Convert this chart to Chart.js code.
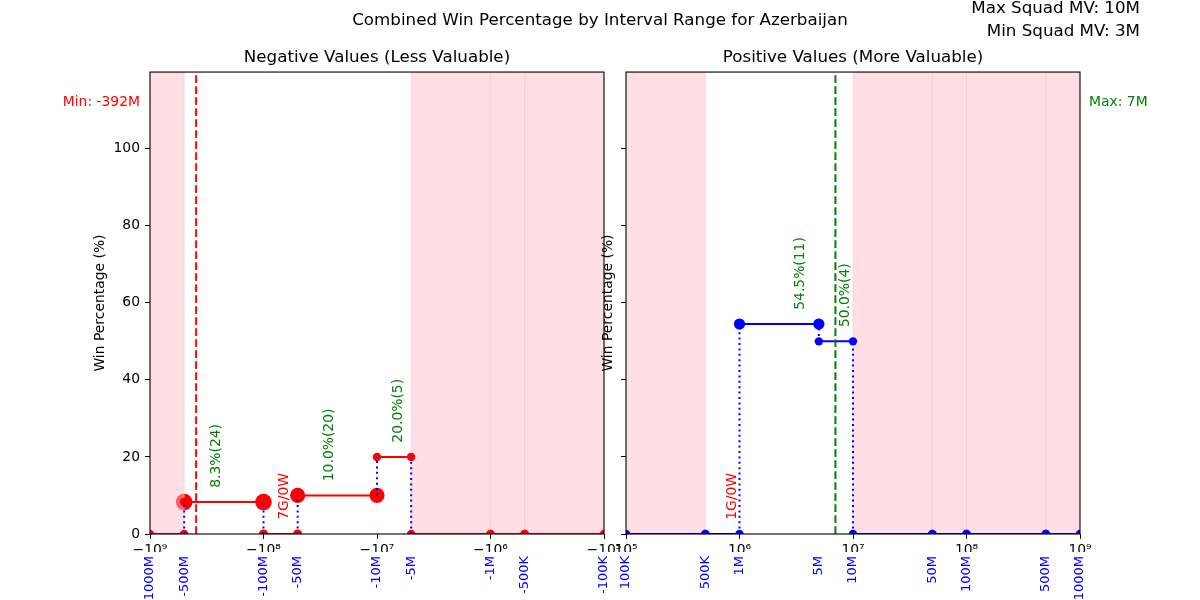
<!DOCTYPE html>
<html>
<head>
<meta charset="utf-8">
<script src="https://cdn.jsdelivr.net/npm/chart.js@4.4.1/dist/chart.umd.min.js"></script>
<style>
html,body{margin:0;padding:0;background:#fff;}
#wrap{position:relative;width:1200px;height:600px;overflow:hidden;font-family:'DejaVu Sans',sans-serif;background:#fff;}
canvas{position:absolute;left:0;top:0;}
.t{position:absolute;white-space:nowrap;font-size:16.7px;color:#000;}
</style>
</head>
<body>
<div id="wrap">
<canvas id="neg" width="1200" height="600" style="width:1200px;height:600px"></canvas>
<canvas id="pos" width="1200" height="600" style="width:1200px;height:600px"></canvas>
<div class="t" id="sup" style="left:0;width:1200px;text-align:center;top:9px;line-height:20px;"></div>
<div class="t" id="squad" style="right:60px;top:-4px;text-align:right;line-height:23.3px;"></div>
</div>
<script>
// ---------------- data ----------------
const suptitleText = 'Combined Win Percentage by Interval Range for Azerbaijan';
const squadLines = ['Max Squad MV: 10M', 'Min Squad MV: 3M'];

const negTitle = 'Negative Values (Less Valuable)';
const negBounds = [-1e9, -5e8, -1e8, -5e7, -1e7, -5e6, -1e6, -5e5, -1e5];
const negWinPct = [0, 8.3, 0, 10.0, 20.0, 0, 0, 0];
const negGames  = [0, 24, 7, 20, 5, 0, 0, 0];
const negMinValue = -392e6;

const posTitle = 'Positive Values (More Valuable)';
const posBounds = [1e5, 5e5, 1e6, 5e6, 1e7, 5e7, 1e8, 5e8, 1e9];
const posWinPct = [0, 0, 54.5, 50.0, 0, 0, 0, 0];
const posGames  = [0, 1, 11, 4, 0, 0, 0, 0];
const posMaxValue = 7e6;

const decadeTicks = [1e5, 1e6, 1e7, 1e8, 1e9];
const yTicks = [0, 20, 40, 60, 80, 100];
const yMax = 119.9;
const yTitle = 'Win Percentage (%)';

// ---------------- helpers ----------------
document.getElementById('sup').textContent = suptitleText;
document.getElementById('squad').innerHTML = squadLines.join('<br>');

const SUP = {'0':'\u2070','1':'\u00b9','2':'\u00b2','3':'\u00b3','4':'\u2074','5':'\u2075','6':'\u2076','7':'\u2077','8':'\u2078','9':'\u2079'};
function sup(n){ return String(n).split('').map(c => SUP[c]).join(''); }
function fmtMV(v){
  const a = Math.abs(v), s = v < 0 ? '-' : '';
  return a >= 1e6 ? s + Math.round(a / 1e6) + 'M' : s + Math.round(a / 1e3) + 'K';
}

Chart.defaults.font.family = "'DejaVu Sans', sans-serif";
Chart.defaults.font.size = 13.9;
Chart.defaults.color = '#000';

function makeChart(id, o) {
  const X = v => Math.abs(v);
  const datasets = [];

  // scatter markers sized by games (drawn lowest)
  const bigPts = [], bigR = [];
  o.games.forEach((g, i) => {
    if (g > 0) {
      const r = 1.7 * Math.sqrt(g);
      bigPts.push({x: X(o.bounds[i]), y: o.pct[i]}, {x: X(o.bounds[i + 1]), y: o.pct[i]});
      bigR.push(r, r);
    }
  });
  datasets.push({data: bigPts, showLine: false, pointRadius: bigR, pointHoverRadius: bigR,
    pointBackgroundColor: o.color, pointBorderWidth: 0, borderWidth: 0, order: 10, clip: 0, spansAfter: true});

  // interval segments
  o.pct.forEach((p, i) => {
    datasets.push({data: [{x: X(o.bounds[i]), y: p}, {x: X(o.bounds[i + 1]), y: p}],
      borderColor: o.color, borderWidth: 2, pointRadius: 4.2, pointHoverRadius: 4.2,
      pointBackgroundColor: o.color, pointBorderWidth: 0, order: 5, clip: 0});
  });

  // dotted connectors between levels
  for (let i = 1; i < o.pct.length; i++) {
    if (o.pct[i] !== o.pct[i - 1]) {
      const lo = Math.min(o.pct[i], o.pct[i - 1]), hi = Math.max(o.pct[i], o.pct[i - 1]);
      datasets.push({data: [{x: X(o.bounds[i]), y: lo}, {x: X(o.bounds[i]), y: hi}],
        borderColor: 'blue', borderWidth: 2, borderDash: [2, 3.4], pointRadius: 0, order: 1, clip: 0});
    }
  }

  // reference dashed line
  datasets.push({data: [{x: X(o.ref), y: 0}, {x: X(o.ref), y: yMax}],
    borderColor: o.refColor, borderWidth: 2, borderDash: [7.7, 3.3], pointRadius: 0, order: 2, clip: 0});

  const decor = {
    id: 'decor' + id,
    afterDatasetDraw(chart, args) {
      const ds = chart.data.datasets[args.index];
      if (!ds.spansAfter) return;
      const ctx = chart.ctx, ca = chart.chartArea, xs = chart.scales.x;
      ctx.save();
      ctx.beginPath(); ctx.rect(ca.left, ca.top, ca.right - ca.left, ca.bottom - ca.top); ctx.clip();
      ctx.fillStyle = 'rgba(255,192,203,0.5)';
      ctx.strokeStyle = 'rgba(255,192,203,0.5)';
      ctx.lineWidth = 1;
      o.games.forEach((g, i) => {
        if (g !== 0) return;
        const a = xs.getPixelForValue(X(o.bounds[i])), b = xs.getPixelForValue(X(o.bounds[i + 1]));
        const l = Math.min(a, b), w = Math.abs(b - a);
        ctx.fillRect(l, ca.top, w, ca.bottom - ca.top);
        ctx.strokeRect(l, ca.top, w, ca.bottom - ca.top);
      });
      ctx.restore();
    },
    afterDatasetsDraw(chart) {
      const ctx = chart.ctx, ca = chart.chartArea, xs = chart.scales.x, ys = chart.scales.y;
      ctx.save();
      // interval labels
      ctx.font = "13.9px 'DejaVu Sans', sans-serif";
      o.games.forEach((g, i) => {
        if (g === 0) return;
        const mid = (o.bounds[i] + o.bounds[i + 1]) / 2;
        const x = xs.getPixelForValue(X(mid));
        const y = ys.getPixelForValue(o.pct[i] + 3.7);
        const txt = o.pct[i] > 0 ? o.pct[i].toFixed(1) + '%(' + g + ')' : g + 'G/0W';
        ctx.fillStyle = o.pct[i] > 0 ? 'green' : 'red';
        ctx.save();
        ctx.translate(x, y);
        ctx.rotate(-Math.PI / 2);
        ctx.textAlign = 'left';
        ctx.textBaseline = 'top';
        ctx.fillText(txt, 0, 0);
        ctx.restore();
      });
      // frame
      ctx.strokeStyle = '#000';
      ctx.lineWidth = 1.1;
      ctx.strokeRect(ca.left, ca.top, ca.right - ca.left, ca.bottom - ca.top);
      // min / max text
      ctx.fillStyle = o.refColor;
      ctx.textBaseline = 'middle';
      const ty = ys.getPixelForValue(112);
      if (o.refSide === 'left') { ctx.textAlign = 'right'; ctx.fillText(o.refText, ca.left - 10, ty); }
      else { ctx.textAlign = 'left'; ctx.fillText(o.refText, ca.right + 9, ty); }
      ctx.restore();
    }
  };

  return new Chart(document.getElementById(id), {
    type: 'line',
    data: {datasets},
    plugins: [decor],
    options: {
      responsive: false, animation: false, events: [],
      layout: {padding: {left: o.padLeft, right: o.padRight, top: 48, bottom: 0}},
      plugins: {
        legend: {display: false}, tooltip: {enabled: false},
        title: {display: true, text: o.title, color: '#000', fullSize: false,
          font: {size: 16.7, weight: 'normal'}, padding: {top: 0, bottom: 4}}
      },
      scales: {
        x: {type: 'logarithmic', min: 1e5, max: 1e9, reverse: o.neg, position: 'bottom', weight: 0,
          afterBuildTicks(s) { s.ticks = decadeTicks.map(v => ({value: v})); },
          afterFit(s) { s.height = 18; s.paddingLeft = 0; s.paddingRight = 0; },
          ticks: {autoSkip: false, minRotation: 0, maxRotation: 0, padding: 3, color: '#000', font: {size: 13.9},
            callback: v => (o.neg ? '\u2212' : '') + '10' + sup(Math.round(Math.log10(v)))},
          grid: {display: true, drawOnChartArea: false, drawTicks: true, tickLength: 5, color: '#000', lineWidth: 1},
          border: {display: false}},
        x2: {type: 'logarithmic', axis: 'x', min: 1e5, max: 1e9, reverse: o.neg, position: 'bottom', weight: 1,
          afterBuildTicks(s) { s.ticks = o.bounds.map(v => ({value: X(v)})); },
          afterFit(s) { s.height = 48; s.paddingLeft = 0; s.paddingRight = 0; },
          ticks: {autoSkip: false, minRotation: 90, maxRotation: 90, padding: 4, color: 'blue', font: {size: 13}},
          grid: {display: false, drawTicks: false},
          border: {display: false}},
        y: {type: 'linear', min: 0, max: yMax, position: 'left',
          afterBuildTicks(s) { s.ticks = yTicks.map(v => ({value: v})); },
          afterFit(s) { s.width = o.yWidth; },
          ticks: {padding: 5, color: '#000', font: {size: 13.9}, callback: v => o.showY ? String(v) : ''},
          grid: {display: true, drawOnChartArea: false, drawTicks: true, tickLength: 5, color: '#000', lineWidth: 1},
          border: {display: false},
          title: {display: true, text: yTitle, color: '#000', font: {size: 13.9}, padding: {top: 4, bottom: 4}}}
      }
    }
  });
}

// blue boundary labels on the second axis
function boundaryLabel(neg) { return v => fmtMV(neg ? -v : v); }

const negChart = makeChart('neg', {
  bounds: negBounds, pct: negWinPct, games: negGames, color: 'red', neg: true,
  ref: negMinValue, refColor: 'red', refText: 'Min: ' + fmtMV(negMinValue), refSide: 'left',
  title: negTitle, padLeft: 88, yWidth: 62, padRight: 596, showY: true
});
const posChart = makeChart('pos', {
  bounds: posBounds, pct: posWinPct, games: posGames, color: 'blue', neg: false,
  ref: posMaxValue, refColor: 'green', refText: 'Max: ' + fmtMV(posMaxValue), refSide: 'right',
  title: posTitle, padLeft: 596, yWidth: 30, padRight: 120, showY: false
});
negChart.options.scales.x2.ticks.callback = boundaryLabel(true);
posChart.options.scales.x2.ticks.callback = boundaryLabel(false);
negChart.update('none');
posChart.update('none');
</script>
</body>
</html>
